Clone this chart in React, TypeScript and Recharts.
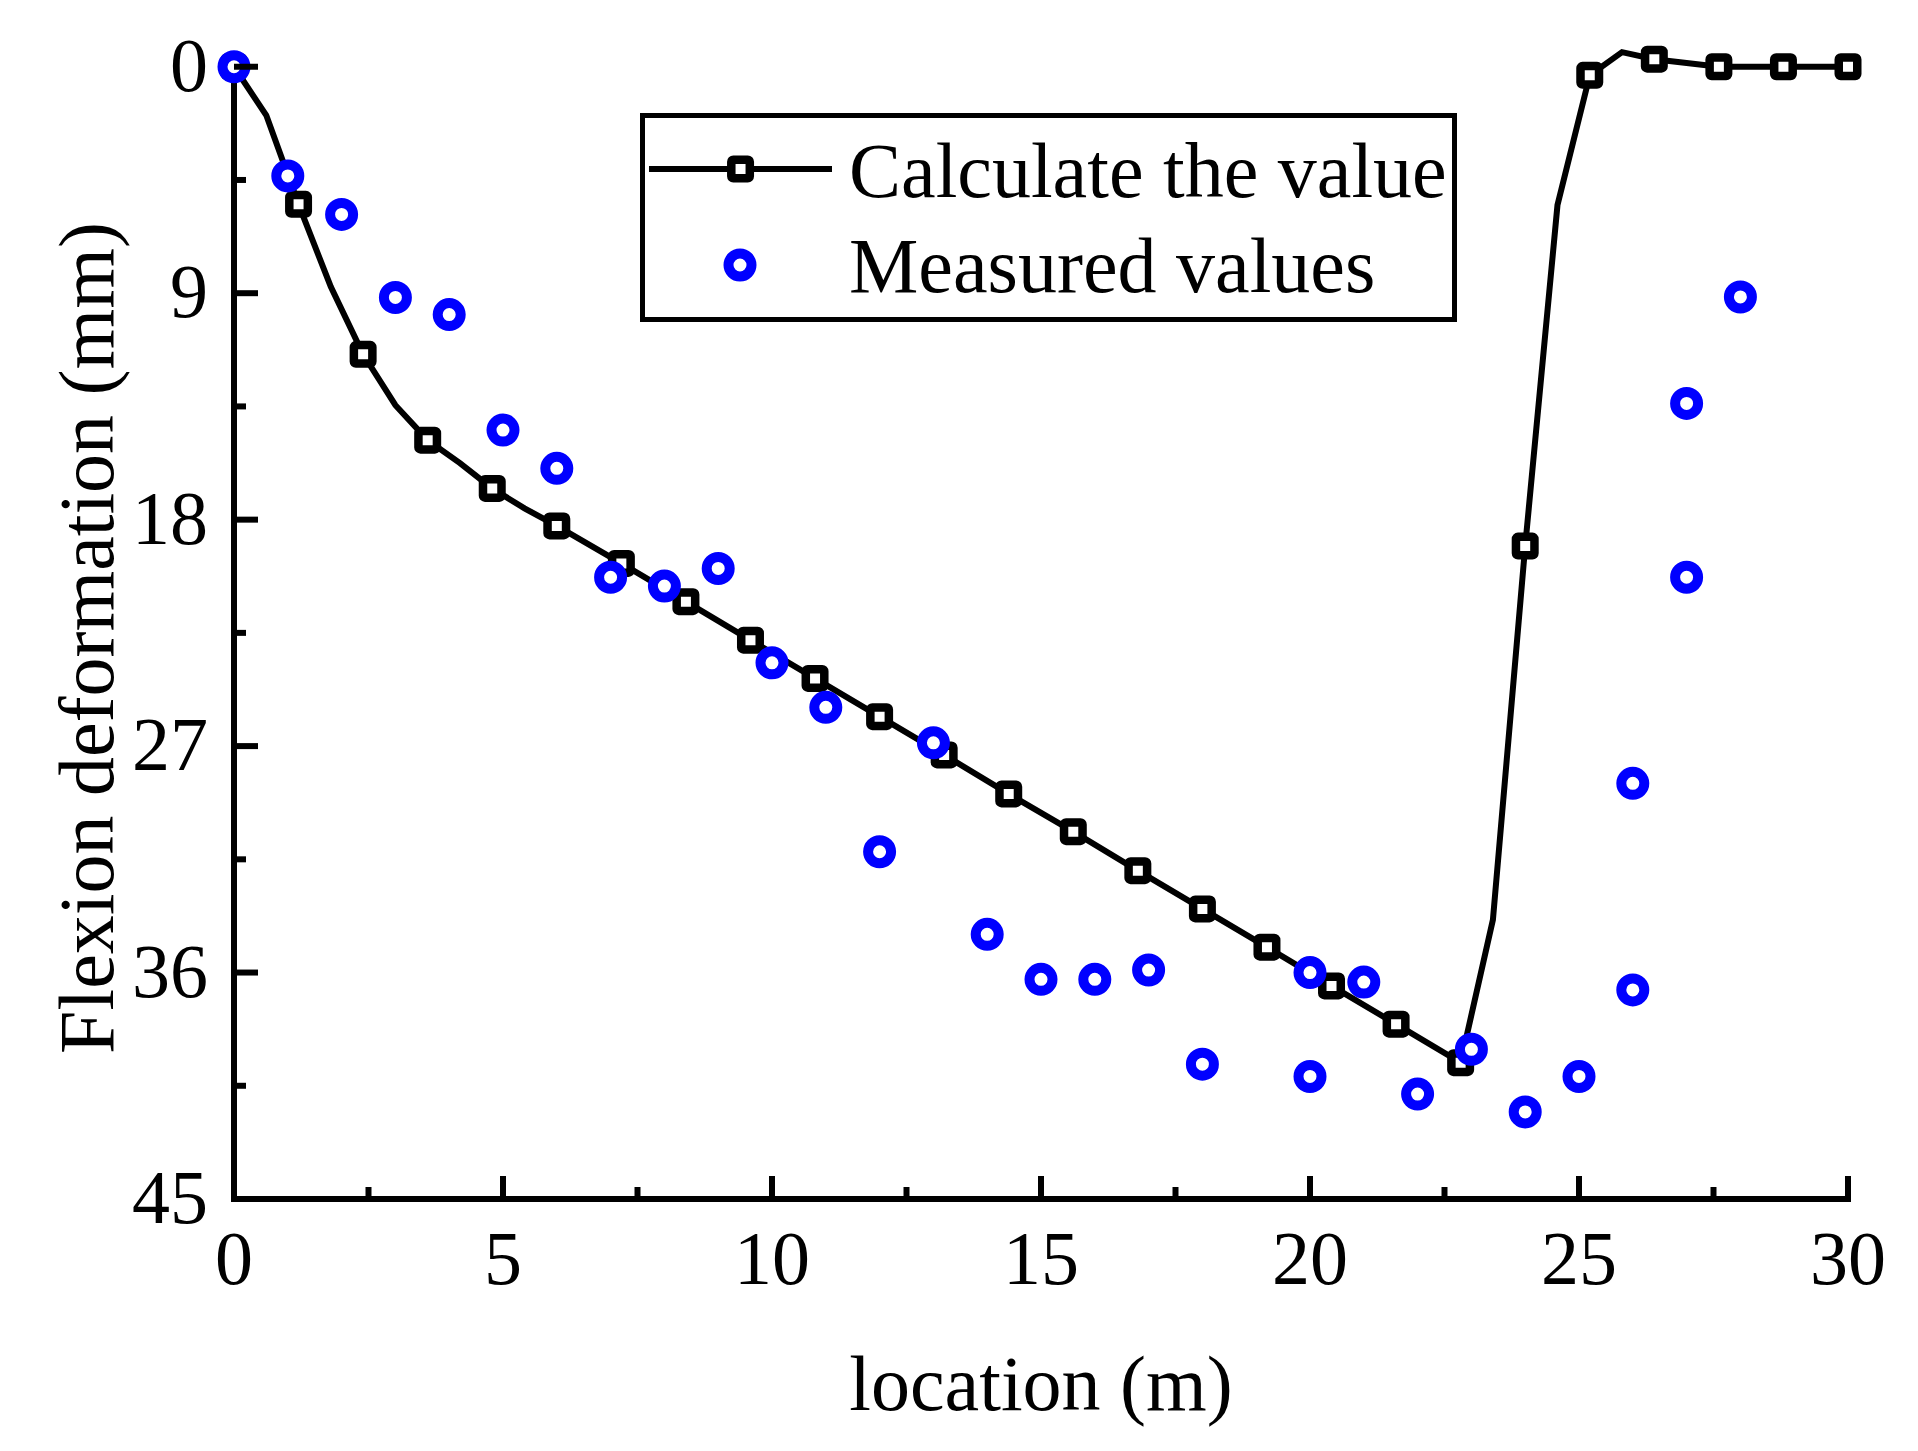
import React from 'react';
import { ComposedChart, Line, Scatter, XAxis, YAxis, ReferenceLine, Legend } from 'recharts';

const FONT = '"Liberation Serif", "Times New Roman", serif';

// calculated curve: marker positions (every 1.2 m)
const calcX = [0, 1.2, 2.4, 3.6, 4.8, 6, 7.2, 8.4, 9.6, 10.8, 12, 13.2, 14.4, 15.6, 16.8, 18, 19.2, 20.4, 21.6, 22.8, 24, 25.2, 26.4, 27.6, 28.8, 30];
const calcY = [0, 5.47, 11.43, 14.84, 16.76, 18.25, 19.74, 21.26, 22.79, 24.31, 25.83, 27.35, 28.9, 30.4, 31.95, 33.47, 34.99, 36.53, 38.05, 39.58, 19.05, 0.34, -0.3, 0, 0, 0];

// extra bends of the calculated curve between markers
const bendX = [0.6, 1.8, 3.0, 4.2, 5.4, 23.4, 24.6, 25.8];
const bendY = [1.93, 8.75, 13.45, 15.75, 17.55, 33.9, 5.5, -0.58];

// measured values
const measX = [0, 1, 2, 3, 4, 5, 6, 7, 8, 9, 10, 11, 12, 13, 14, 15, 16, 17, 18, 20, 20, 21, 22, 23, 24, 25, 26, 26, 27, 27, 28];
const measY = [0, 4.34, 5.87, 9.17, 9.85, 14.44, 15.96, 20.29, 20.64, 19.94, 23.69, 25.46, 31.2, 26.87, 34.48, 36.27, 36.27, 35.9, 39.64, 36.0, 40.13, 36.38, 40.83, 39.05, 41.54, 40.13, 28.48, 36.69, 13.38, 20.29, 9.15];

const xTicks = [0, 2.5, 5, 7.5, 10, 12.5, 15, 17.5, 20, 22.5, 25, 27.5, 30];
const yTicks = [0, 4.5, 9, 13.5, 18, 22.5, 27, 31.5, 36, 40.5, 45];

const calcData = calcX.map((x, i) => ({ x, y: calcY[i] }));
const lineData = [...calcData, ...bendX.map((x, i) => ({ x, y: bendY[i] }))].sort((a, b) => a.x - b.x);
const measData = measX.map((x, i) => ({ x, y: measY[i] }));

const X_GAP = 85; // axis line -> tick label baseline
const Y_GAP = 26; // axis line -> tick label right edge

const XTick = ({ x, y, payload }: any) => {
  const v = payload.value;
  const major = v % 5 === 0;
  const axisY = y - X_GAP;
  return (
    <g>
      <line x1={x} x2={x} y1={axisY} y2={axisY - (major ? 23 : 12)} stroke="#000" strokeWidth={6} />
      {major && (
        <text x={x} y={y} textAnchor="middle" fontSize={76} fontFamily={FONT} fill="#000">
          {v}
        </text>
      )}
    </g>
  );
};

const YTick = ({ x, y, payload }: any) => {
  const v = payload.value;
  const major = v % 9 === 0;
  const axisX = x + Y_GAP;
  return (
    <g>
      <line x1={axisX} x2={axisX + (major ? 24 : 12)} y1={y} y2={y} stroke="#000" strokeWidth={6} />
      {major && (
        <text x={x} y={y + 24} textAnchor="end" fontSize={76} fontFamily={FONT} fill="#000">
          {v}
        </text>
      )}
    </g>
  );
};

const SquareMark = ({ cx, cy }: any) => (
  <rect x={cx - 9.25} y={cy - 9.25} width={18.5} height={18.5} rx={2} fill="#fff" stroke="#000" strokeWidth={8.5} />
);

const CircleMark = ({ cx, cy }: any) => (
  <circle cx={cx} cy={cy} r={11.5} fill="#fff" stroke="#0000ff" strokeWidth={10} />
);

const LegendBox = () => (
  <svg width={817} height={209} style={{ display: 'block' }}>
    <rect x={2.5} y={2.5} width={812} height={204} fill="#fff" stroke="#000" strokeWidth={5} />
    <line x1={9} x2={192} y1={56} y2={56} stroke="#000" strokeWidth={6} />
    <rect x={91.3} y={46.75} width={18.5} height={18.5} rx={2} fill="#fff" stroke="#000" strokeWidth={8.5} />
    <circle cx={100} cy={152} r={11.5} fill="#fff" stroke="#0000ff" strokeWidth={10} />
    <text x={209} y={84} fontSize={78} fontFamily={FONT} fill="#000">Calculate the value</text>
    <text x={209} y={179} fontSize={78} fontFamily={FONT} fill="#000">Measured values</text>
  </svg>
);

export default function App() {
  return (
    <div style={{ width: 1900, height: 1435, fontFamily: FONT }}>
      <ComposedChart width={1900} height={1435} margin={{ top: 21, right: 60, bottom: 0, left: 0 }}>
        <XAxis
          dataKey="x"
          type="number"
          domain={[0, 30]}
          ticks={xTicks}
          interval={0}
          height={244}
          tickSize={0}
          tickMargin={X_GAP}
          tickLine={false}
          tick={<XTick />}
          axisLine={{ stroke: '#000', strokeWidth: 6, strokeLinecap: 'square' }}
          label={{ value: 'location (m)', position: 'insideBottom', offset: 33, fontSize: 78, fill: '#000', fontFamily: FONT }}
        />
        <YAxis
          dataKey="y"
          type="number"
          reversed
          domain={[-1.5, 45]}
          ticks={yTicks}
          interval={0}
          width={226}
          tickSize={0}
          tickMargin={Y_GAP}
          tickLine={false}
          tick={<YTick />}
          axisLine={false}
          label={{
            value: 'Flexion deformation (mm)',
            angle: -90,
            position: 'insideLeft',
            offset: 77,
            dy: 24,
            fontSize: 78,
            fill: '#000',
            fontFamily: FONT,
            style: { textAnchor: 'middle' },
          }}
        />
        <ReferenceLine segment={[{ x: 0, y: 0 }, { x: 0, y: 45 }]} stroke="#000" strokeWidth={6} strokeLinecap="square" />
        <Legend
          layout="horizontal"
          verticalAlign="middle"
          align="center"
          content={<LegendBox />}
          wrapperStyle={{ left: 632, top: 105, width: 817, height: 209 }}
        />
        <Line data={lineData} dataKey="y" type="linear" stroke="#000" strokeWidth={6} dot={false} activeDot={false} isAnimationActive={false} />
        <Scatter data={calcData} dataKey="y" shape={<SquareMark />} isAnimationActive={false} />
        <Scatter data={measData} dataKey="y" shape={<CircleMark />} isAnimationActive={false} />
      </ComposedChart>
    </div>
  );
}
